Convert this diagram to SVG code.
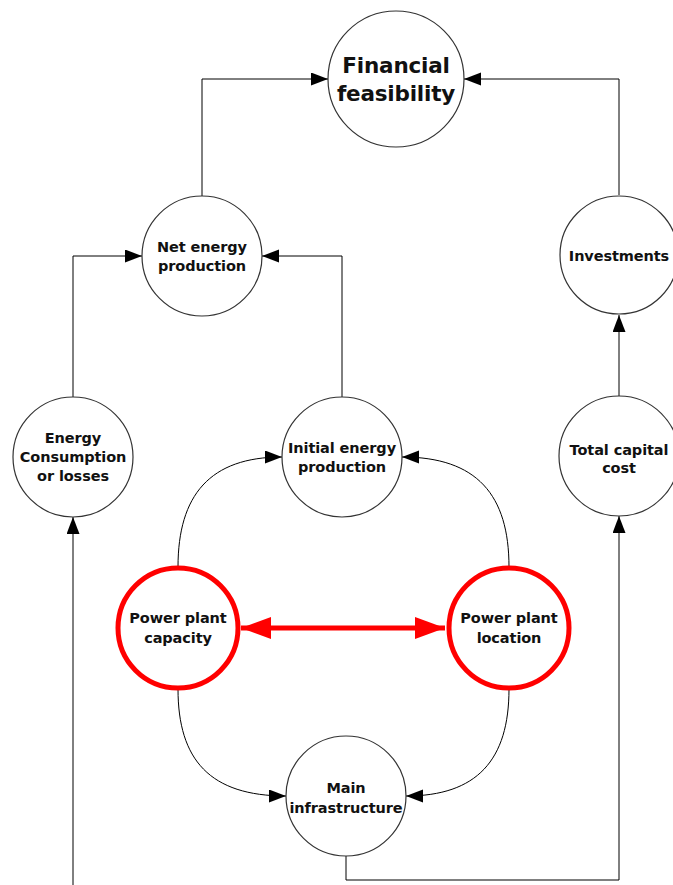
<svg xmlns="http://www.w3.org/2000/svg" width="673" height="885" viewBox="0 0 673 885">
<defs>
<style>
.node circle{fill:#fff;stroke:#333;stroke-width:1.2}
.red circle{stroke:#f00;stroke-width:5}
text{font-family:"DejaVu Sans",Verdana,sans-serif;font-weight:bold;font-size:14.5px;fill:#111;text-anchor:middle;letter-spacing:-0.1px}
.big{font-size:21.5px;letter-spacing:-0.2px}
.conn path{fill:none;stroke:#000;stroke-width:1}
</style>
<marker id="ah" markerUnits="userSpaceOnUse" markerWidth="18" markerHeight="14" refX="17" refY="6.5" orient="auto">
<path d="M0,0 L17,6.5 L0,13 Z" fill="#000"/>
</marker>
<marker id="rh" markerUnits="userSpaceOnUse" markerWidth="32" markerHeight="24" refX="30" refY="11" orient="auto-start-reverse">
<path d="M0,0 L30,11 L0,22 Z" fill="#f00"/>
</marker>
</defs>
<rect width="673" height="885" fill="#fff"/>
<g class="conn">
<path d="M202,196 V79 H328" marker-end="url(#ah)"/>
<path d="M619,195 V79 H464" marker-end="url(#ah)"/>
<path d="M73,397 V256 H142" marker-end="url(#ah)"/>
<path d="M342,397 V256 H262" marker-end="url(#ah)"/>
<path d="M619,396 V315" marker-end="url(#ah)"/>
<path d="M73,885 V517" marker-end="url(#ah)"/>
<path d="M346,856 V880 H619 V516" marker-end="url(#ah)"/>
<path d="M178,567 C178,495 210,457 282,457" marker-end="url(#ah)"/>
<path d="M509,567 C509,495 477,457 402,457" marker-end="url(#ah)"/>
<path d="M178,689 C178,760 210,796 286,796" marker-end="url(#ah)"/>
<path d="M509,689 C509,760 477,796 406,796" marker-end="url(#ah)"/>
<path d="M241,628 H445" style="stroke:#f00;stroke-width:5" marker-start="url(#rh)" marker-end="url(#rh)"/>
</g>
<g id="financial" class="node"><circle cx="396" cy="79" r="68"/><text class="big" x="396" y="73">Financial</text><text class="big" x="396" y="101">feasibility</text></g>
<g id="net" class="node"><circle cx="202" cy="256" r="60"/><text x="202" y="252">Net energy</text><text x="202" y="271">production</text></g>
<g id="investments" class="node"><circle cx="619" cy="255" r="59"/><text x="619" y="261">Investments</text></g>
<g id="consumption" class="node"><circle cx="73" cy="457" r="60"/><text x="73" y="443">Energy</text><text x="73" y="462">Consumption</text><text x="73" y="481">or losses</text></g>
<g id="initial" class="node"><circle cx="342" cy="457" r="60"/><text x="342" y="453">Initial energy</text><text x="342" y="472">production</text></g>
<g id="capital" class="node"><circle cx="619" cy="456" r="60"/><text x="619" y="455">Total capital</text><text x="619" y="473">cost</text></g>
<g id="capacity" class="node red"><circle cx="178" cy="628" r="60"/><text x="178" y="623">Power plant</text><text x="178" y="643">capacity</text></g>
<g id="location" class="node red"><circle cx="509" cy="628" r="60"/><text x="509" y="623">Power plant</text><text x="509" y="643">location</text></g>
<g id="infra" class="node"><circle cx="346" cy="796" r="60"/><text x="346" y="793">Main</text><text x="346" y="813">infrastructure</text></g>
</svg>
